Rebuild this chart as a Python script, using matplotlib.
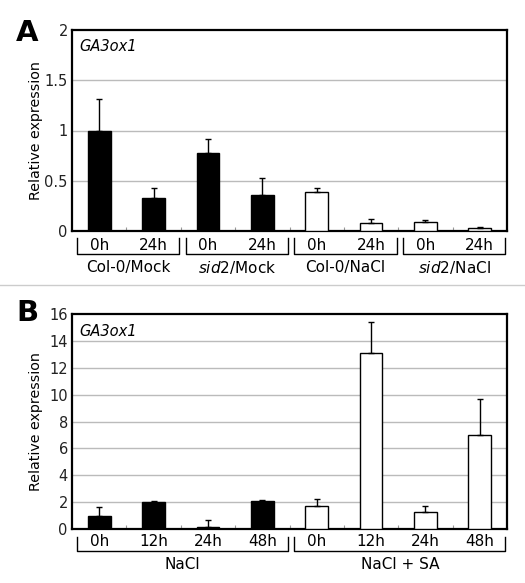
import matplotlib.pyplot as plt
import matplotlib.transforms as mtransforms

# panel A data
a_times = ["0h", "24h", "0h", "24h", "0h", "24h", "0h", "24h"]
a_values = [1.0, 0.33, 0.78, 0.36, 0.39, 0.08, 0.09, 0.025]
a_sd = [0.31, 0.10, 0.14, 0.17, 0.04, 0.04, 0.02, 0.015]
a_fill = ["black", "black", "black", "black", "white", "white", "white", "white"]
a_groups = ["Col-0/Mock", r"$\mathit{sid2}$/Mock", "Col-0/NaCl", r"$\mathit{sid2}$/NaCl"]

# panel B data
b_times = ["0h", "12h", "24h", "48h", "0h", "12h", "24h", "48h"]
b_values = [1.0, 2.01, 0.17, 2.09, 1.69, 13.1, 1.27, 6.98]
b_sd = [0.62, 0.05, 0.50, 0.05, 0.52, 2.3, 0.42, 2.66]
b_fill = ["black", "black", "black", "black", "white", "white", "white", "white"]
b_groups = ["NaCl", "NaCl + SA"]

plt.rcParams['font.family'] = ['DejaVu Sans']

fig = plt.figure(figsize=(5.25, 5.83), dpi=100)


def panel(rect, times, values, sd, fill, groups, ymax, ystep, ylabels,
          tick_y, br_top, br_bot, grp_y, letter, letter_y):
    ax = fig.add_axes(rect)
    n = len(values)
    x = list(range(n))
    ax.bar(x, values, width=0.42, color=fill, edgecolor="black", linewidth=1, zorder=3)
    ax.errorbar(x, values, yerr=[[0] * n, sd], fmt="none", ecolor="black",
                elinewidth=1, capsize=2.5, capthick=1, zorder=4)
    ax.set_xlim(-0.5, n - 0.5)
    ax.set_ylim(0, ymax)
    yt = [i * ystep for i in range(len(ylabels))]
    ax.set_yticks(yt)
    ax.set_yticklabels(ylabels, fontsize=10.5, color="#222222")
    ax.tick_params(axis="y", length=0, pad=3)
    for v in yt[1:-1]:
        ax.axhline(v, color="#bbbbbb", linewidth=1, zorder=1)
    ax.set_xticks([i + 0.5 for i in range(n - 1)])
    ax.set_xticklabels([])
    ax.tick_params(axis="x", direction="in", length=3, color="#999999")
    for s in ax.spines.values():
        s.set_linewidth(1.6)
    ax.set_ylabel("Relative expression", fontsize=10.3)
    ax.yaxis.set_label_coords(-29 / 435, 0.5)
    ax.text(0.016, 0.92, "GA3ox1", transform=ax.transAxes, fontsize=10.5,
            style="italic", va="center", ha="left")

    trans = mtransforms.blended_transform_factory(ax.transData, ax.transAxes)
    for i, t in enumerate(times):
        ax.text(i, tick_y, t, transform=trans, ha="center", va="center", fontsize=11)
    size = n // len(groups)
    for g, name in enumerate(groups):
        x0 = g * size - 0.5 + 0.09
        x1 = (g + 1) * size - 0.5 - 0.03
        ax.plot([x0, x0, x1, x1], [br_top, br_bot, br_bot, br_top], color="black",
                linewidth=1, transform=trans, clip_on=False)
        ax.text((x0 + x1) / 2, grp_y, name, transform=trans, ha="center",
                va="center", fontsize=11)
    fig.text(27 / 525, 1 - letter_y / 583, letter,
             fontsize=21, fontweight="bold", ha="center", va="center")
    return ax


panel([72 / 525, 1 - 231 / 583, 435 / 525, 201 / 583], a_times, a_values, a_sd,
      a_fill, a_groups, 2, 0.5, ["0", "0.5", "1", "1.5", "2"],
      -0.07, -0.035, -0.114, -0.18, "A", 33)

panel([72 / 525, 1 - 529 / 583, 435 / 525, 215 / 583], b_times, b_values, b_sd,
      b_fill, b_groups, 16, 2, ["0", "2", "4", "6", "8", "10", "12", "14", "16"],
      -0.059, -0.037, -0.102, -0.167, "B", 313)

fig.add_artist(plt.Line2D([0, 1], [1 - 285 / 583, 1 - 285 / 583], color="#cccccc",
                          linewidth=1, transform=fig.transFigure))

fig.savefig("out.png", dpi=100)
